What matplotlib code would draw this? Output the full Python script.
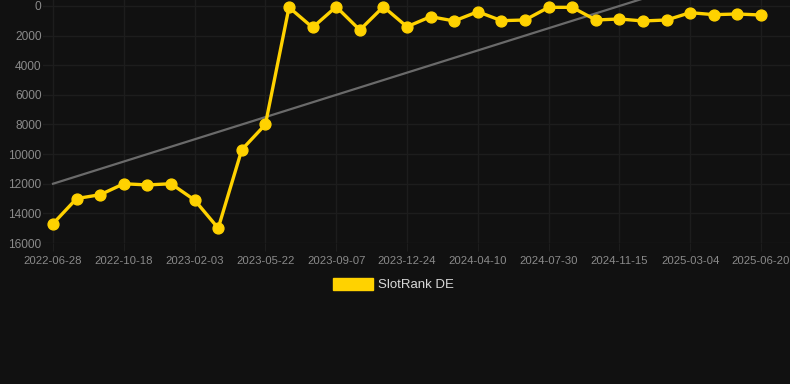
import matplotlib
matplotlib.use("Agg")
import matplotlib.pyplot as plt
import matplotlib.patches as mpatches

plt.rcParams['font.family'] = ['Liberation Sans', 'DejaVu Sans']

# Data (rank values, lower is better; y-axis inverted)
ranks = [14700, 13000, 12740, 12000, 12080, 12000, 13100, 15000, 9700, 8000,
         90, 1450, 50, 1620, 50, 1400, 720, 1010, 385, 990,
         945, 90, 90, 945, 877, 1010, 945, 450, 585, 540, 608]
tick_labels = ["2022-06-28", "2022-10-18", "2023-02-03", "2023-05-22", "2023-09-07",
               "2023-12-24", "2024-04-10", "2024-07-30", "2024-11-15", "2025-03-04",
               "2025-06-20"]
tick_step = 3
trend_start = 12000
trend_end = -3000
y_ticks = [0, 2000, 4000, 6000, 8000, 10000, 12000, 14000, 16000]
series_name = "SlotRank DE"

BG = "#111111"
GOLD = "#FFD200"
GRID = "#1d1d1d"
TXT = "#8a8a8a"

W, H = 790, 384
fig = plt.figure(figsize=(W / 100, H / 100), dpi=100, facecolor=BG)
left, right, top, bottom = 43, 790, 0, 243
ax = fig.add_axes([left / W, 1 - bottom / H, (right - left) / W, (bottom - top) / H])
ax.set_facecolor(BG)

x = list(range(len(ranks)))
n = len(ranks)
ax.plot([0, n - 1], [trend_start, trend_end], color="#6a6a6a", lw=1.6, zorder=2)
ax.plot(x, ranks, color=GOLD, lw=2.4, marker="o", ms=7.8, markerfacecolor=GOLD,
        markeredgecolor=GOLD, zorder=3, solid_joinstyle="round")

ax.set_xlim(-0.424, n - 1 + 1.23)
ax.set_ylim(16000, -405)
ax.set_yticks(y_ticks)
ax.set_yticklabels([str(v) for v in y_ticks])
ax.set_xticks(list(range(0, n, tick_step)))
ax.set_xticklabels(tick_labels)

ax.grid(True, color=GRID, lw=1)
ax.set_axisbelow(True)
for s in ax.spines.values():
    s.set_visible(False)
ax.tick_params(axis="y", length=0, pad=1, labelsize=8.6, labelcolor=TXT)
ax.tick_params(axis="x", length=6, color=GRID, pad=3, labelsize=8.2, labelcolor=TXT)

# legend
fig.patches.append(mpatches.Rectangle((333 / W, 1 - 290 / H), 40 / W, 12 / H,
                                      transform=fig.transFigure, color=GOLD))
fig.text(378 / W, 1 - 284.5 / H, series_name, color="#d8d8d8", fontsize=9.5,
         va="center", ha="left")

fig.savefig("out.png", dpi=100, facecolor=BG)
